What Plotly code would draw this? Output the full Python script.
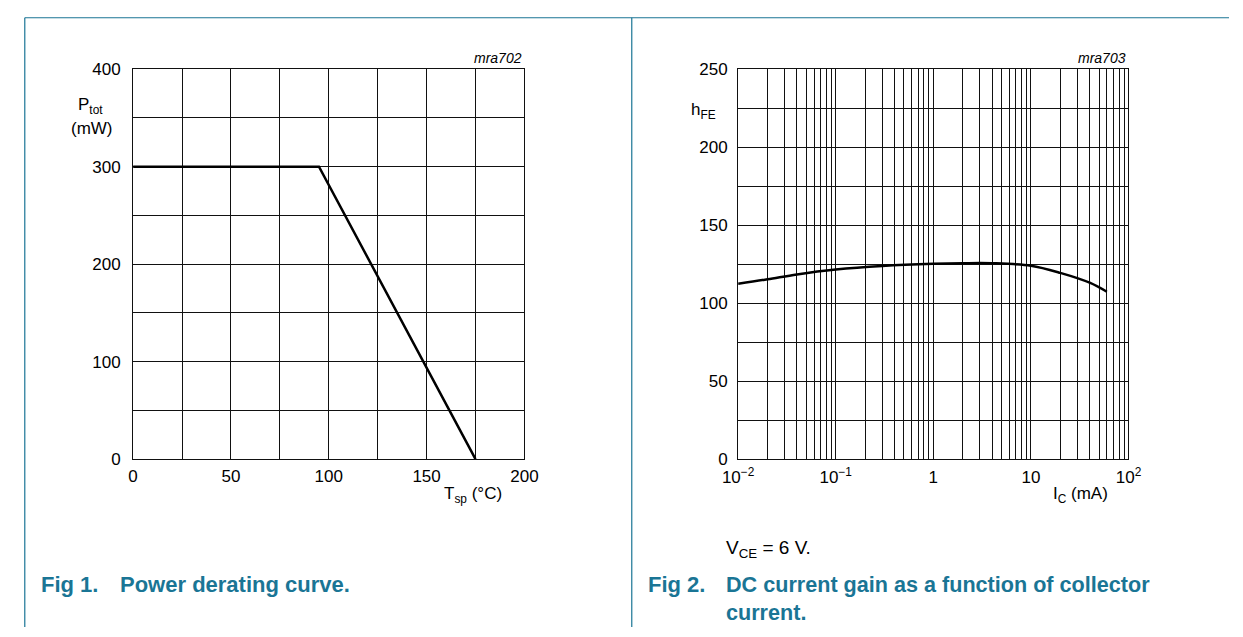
import plotly.graph_objects as go

# ---- data ----
tsp = [0, 95, 175]
ptot = [300, 300, 0]

ic = [0.01, 0.02, 0.04, 0.1, 0.3, 1, 2, 4, 10, 20, 40, 60]
hfe = [112.5, 115.3, 118.4, 121.5, 123.8, 125.2, 125.6, 125.6, 124, 119.4, 113.1, 107.3]

x1_ticks = [0, 25, 50, 75, 100, 125, 150, 175, 200]
x1_text = ["0", "", "50", "", "100", "", "150", "", "200"]
y1_ticks = [0, 50, 100, 150, 200, 250, 300, 350, 400]
y1_text = ["0", "", "100", "", "200", "", "300", "", "400"]

decades = [0.01, 0.1, 1, 10, 100]
decade_text = ["10<sup>−2</sup>", "10<sup>−1</sup>", "1", "10", "10<sup>2</sup>"]
y2_ticks = [0, 25, 50, 75, 100, 125, 150, 175, 200, 225, 250]
y2_text = ["0", "", "50", "", "100", "", "150", "", "200", "", "250"]

x2_ticks, x2_text = [], []
for d, t in zip(decades, decade_text):
    if d < 100:
        for m in range(1, 10):
            x2_ticks.append(d * m)
            x2_text.append(t if m == 1 else "")
    else:
        x2_ticks.append(d)
        x2_text.append(t)

W, H = 1243, 637
def px(x):
    return x / W
def py(y):
    return 1 - y / H

FONT = "Liberation Sans, Arial, sans-serif"
TEAL = "#1a7595"

fig = go.Figure()
fig.add_trace(go.Scatter(x=tsp, y=ptot, mode="lines", line=dict(color="black", width=2.5),
                         xaxis="x", yaxis="y", showlegend=False, hoverinfo="skip"))
fig.add_trace(go.Scatter(x=ic, y=hfe, mode="lines", line=dict(color="black", width=2.5, shape="spline"),
                         xaxis="x2", yaxis="y2", showlegend=False, hoverinfo="skip"))

common = dict(showgrid=True, gridcolor="#111111", gridwidth=1, showline=True, linecolor="#111111",
              linewidth=1.2, mirror=True, zeroline=False, ticks="", tickfont=dict(size=17, color="black"),
              fixedrange=True)

ydom = [py(464), py(62)]
fig.update_layout(
    width=W, height=H, margin=dict(l=0, r=0, t=0, b=0, pad=0),
    paper_bgcolor="white", plot_bgcolor="white",
    font=dict(family=FONT, color="black"),
    xaxis=dict(domain=[px(120), px(521)], range=[0, 200], tickmode="array", tickvals=x1_ticks,
               ticktext=x1_text, anchor="y", ticklabelstandoff=1, **common),
    yaxis=dict(domain=ydom, range=[0, 400], tickmode="array", tickvals=y1_ticks,
               ticktext=y1_text, anchor="x", ticklabelstandoff=8, **common),
    xaxis2=dict(domain=[px(740), px(1140)], type="log", range=[-2, 2], tickmode="array",
                tickvals=x2_ticks, ticktext=x2_text, anchor="y2", ticklabelstandoff=2, **common),
    yaxis2=dict(domain=ydom, range=[0, 250], tickmode="array", tickvals=y2_ticks,
                ticktext=y2_text, anchor="x2", ticklabelstandoff=6, **common),
)

shapes = [
    dict(type="line", xref="paper", yref="paper", x0=px(9), x1=1, y0=py(9), y1=py(9),
         line=dict(color=TEAL, width=1.2)),
    dict(type="line", xref="paper", yref="paper", x0=px(9), x1=px(9), y0=py(9), y1=0,
         line=dict(color=TEAL, width=1.2)),
    dict(type="line", xref="paper", yref="paper", x0=px(631), x1=px(631), y0=py(9), y1=0,
         line=dict(color=TEAL, width=1.2)),
]
fig.update_layout(shapes=shapes)

def ann(text, x, y, size=17, xanchor="left", yanchor="middle", color="black", bold=False, italic=False):
    if bold:
        text = "<b>" + text + "</b>"
    if italic:
        text = "<i>" + text + "</i>"
    fig.add_annotation(text=text, x=px(x), y=py(y), xref="paper", yref="paper", showarrow=False,
                       xanchor=xanchor, yanchor=yanchor, align="left",
                       font=dict(size=size, color=color, family=FONT))

ann("mra702", 521, 51, size=14, xanchor="right", italic=True)
ann("mra703", 1140, 51, size=14, xanchor="right", italic=True)
ann("P<sub>tot</sub>", 61, 100, xanchor="left")
ann("(mW)", 54, 123, xanchor="left")
ann("h<sub>FE</sub>", 690, 105, xanchor="left")
ann("T<sub>sp</sub> (°C)", 500, 501, xanchor="right")
ann("I<sub>C</sub> (mA)", 1121, 501, xanchor="right")
ann("V<sub>CE</sub> = 6 V.", 726, 557, size=19, xanchor="left")
ann("Fig 1.", 24, 593, size=22, color=TEAL, bold=True)
ann("Power derating curve.", 105, 593, size=22, color=TEAL, bold=True)
ann("Fig 2.", 646, 593, size=22, color=TEAL, bold=True)
ann("DC current gain as a function of collector", 726, 593, size=21.6, color=TEAL, bold=True)
ann("current.", 726, 622, size=21.6, color=TEAL, bold=True)

fig.write_html(
    "out.html",
    config={"displayModeBar": False},
    post_script="document.documentElement.style.margin='0';document.body.style.margin='0';"
                "document.documentElement.style.overflow='hidden';document.body.style.overflow='hidden';",
)
